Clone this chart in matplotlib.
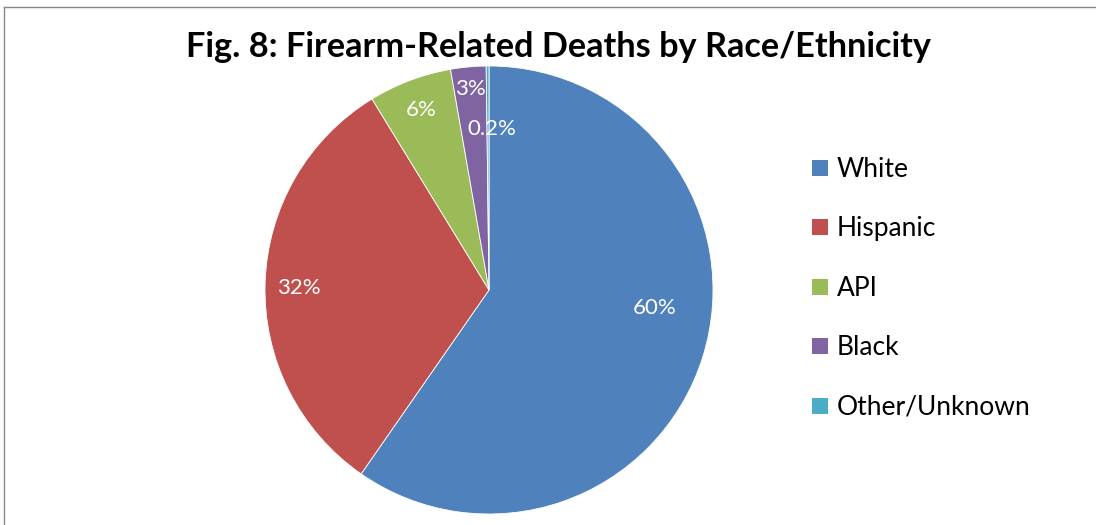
import matplotlib
matplotlib.use("Agg")
import matplotlib.pyplot as plt
from matplotlib.lines import Line2D
from matplotlib.patches import Rectangle
import numpy as np

categories = ["White", "Hispanic", "API", "Black", "Other/Unknown"]
values = [59.7, 31.6, 6.0, 2.55, 0.2]
colors = ["#4F81BD", "#C0504D", "#9BBB59", "#8064A2", "#4BACC6"]
title = "Fig. 8: Firearm-Related Deaths by Race/Ethnicity"

# label placement (fraction along wedge angle, fraction of radius)
label_angle_frac = [0.553, 0.51, 0.5, 0.5, 0.5]
label_radius = [0.745, 0.85, 0.86, 0.90, 0.72]
label_angle_override = [None, None, None, None, 89.0]

W, H = 1096, 525
fig = plt.figure(figsize=(W / 100, H / 100), dpi=100)
plt.rcParams['font.family'] = ['Lato', 'DejaVu Sans']

cx, cy, r = 489, 290, 224
ax = fig.add_axes([(cx - r) / W, (H - cy - r) / H, 2 * r / W, 2 * r / H])
wedges, _ = ax.pie(values, colors=colors, startangle=90, counterclock=False,
                   radius=1, wedgeprops=dict(edgecolor="white", linewidth=0.6))
ax.set_xlim(-1, 1)
ax.set_ylim(-1, 1)
ax.set_aspect("equal")
ax.axis("off")

total = sum(values)
for i, (w, v) in enumerate(zip(wedges, values)):
    pct = v / total * 100
    txt = f"{pct:.1f}%" if pct < 1 else f"{pct:.0f}%"
    if label_angle_override[i] is not None:
        ang = label_angle_override[i]
    else:
        ang = w.theta1 + label_angle_frac[i] * (w.theta2 - w.theta1)
    rad = label_radius[i]
    ax.text(rad * np.cos(np.radians(ang)), rad * np.sin(np.radians(ang)), txt,
            ha="center", va="center", color="white", fontsize=16)

fig.text(559 / W, 1 - 47 / H, title, ha="center", va="center",
         fontsize=24.7, fontweight="bold", color="black")

# legend drawn manually for exact placement
leg_x0, leg_y0, leg_dy, sq = 812, 167, 59.4, 16
for i, (lab, c) in enumerate(zip(categories, colors)):
    yc = leg_y0 + i * leg_dy
    fig.add_artist(Rectangle((leg_x0 / W, 1 - (yc + sq / 2 + 1) / H), sq / W, sq / H,
                             transform=fig.transFigure, facecolor=c, edgecolor="none"))
    fig.text(837 / W, 1 - yc / H, lab, ha="left", va="center_baseline",
             fontsize=19, color="black")

# chart frame
fig.add_artist(Line2D([3.5 / W, 3.5 / W], [0, 1 - 7 / H], transform=fig.transFigure,
                      color="#888888", linewidth=1.0))
fig.add_artist(Line2D([3.5 / W, 1], [1 - 7 / H, 1 - 7 / H], transform=fig.transFigure,
                      color="#888888", linewidth=1.0))

fig.savefig("out.png", dpi=100)
